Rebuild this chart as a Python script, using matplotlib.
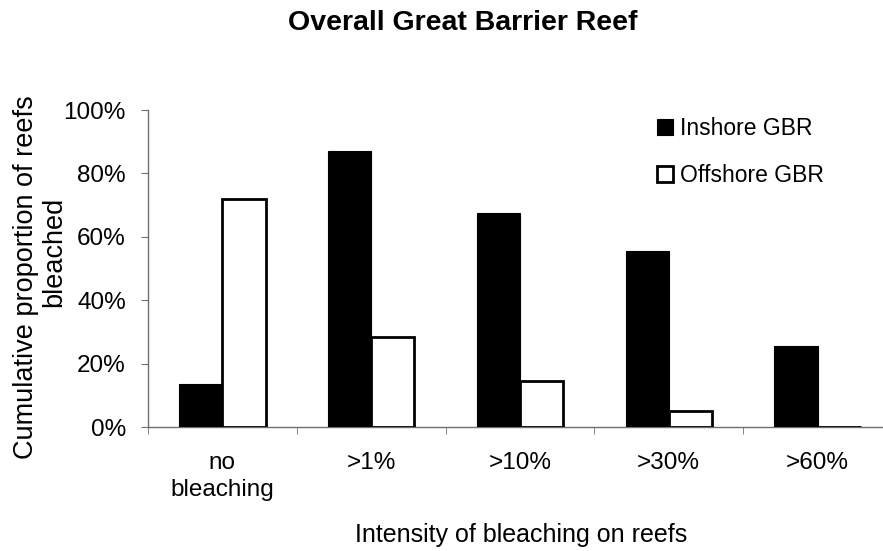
import numpy as np
import matplotlib.pyplot as plt
from matplotlib.ticker import FuncFormatter, FixedLocator

# data
categories = ['no\nbleaching', '>1%', '>10%', '>30%', '>60%']
inshore = [13.5, 87, 67.5, 55.5, 25.5]
offshore = [72, 28.5, 14.5, 5.2, 0]

plt.rcParams['font.family'] = ['Liberation Sans', 'DejaVu Sans']

fig = plt.figure(figsize=(8.83, 5.51), dpi=100)
ax = fig.add_axes([0.1676, 0.225, 0.8324, 0.5753])

x = np.arange(len(categories))
w = 0.29
ax.bar(x - w / 2, inshore, w, color='black', edgecolor='black', linewidth=0.8,
       label='Inshore GBR', zorder=3)
ax.bar(x + w / 2, offshore, w, color='white', edgecolor='black', linewidth=2.0,
       label='Offshore GBR', zorder=3)

ax.set_xlim(-0.5, 4.44)
ax.set_ylim(0, 100)
ax.set_yticks(np.arange(0, 101, 20))
ax.yaxis.set_major_formatter(FuncFormatter(lambda v, p: f'{int(v)}%'))

ax.set_xticks(x)
ax.set_xticklabels(categories, linespacing=1.3)
ax.xaxis.set_minor_locator(FixedLocator(np.arange(-0.5, 5, 1)))
ax.tick_params(axis='x', which='major', length=0, pad=18, labelsize=17.5)
ax.tick_params(axis='x', which='minor', length=5, color='#707070', direction='out')
ax.tick_params(axis='y', length=5, color='#707070', labelsize=17.5, pad=11)

for s in ['top', 'right']:
    ax.spines[s].set_visible(False)
for s in ['left', 'bottom']:
    ax.spines[s].set_color('#707070')
    ax.spines[s].set_linewidth(1.0)

# axis labels
fig.text(0.590, 0.029, 'Intensity of bleaching on reefs', ha='center', va='center',
         fontsize=18)
fig.text(0.030, 0.497, 'Cumulative proportion of reefs', rotation=90,
         ha='center', va='center', fontsize=19.5)
fig.text(0.061, 0.543, 'bleached', rotation=90, ha='center', va='center',
         fontsize=19.5)

fig.text(0.524, 0.958, 'Overall Great Barrier Reef', ha='center', va='center',
         fontsize=20.5, fontweight='bold')

leg = ax.legend(loc='upper left', bbox_to_anchor=(0.693, 0.977), frameon=False,
                fontsize=16.5, handlelength=0.7, handleheight=0.7,
                handletextpad=0.3, labelspacing=1.05, borderpad=0,
                borderaxespad=0)

fig.savefig('out.png', dpi=100)
